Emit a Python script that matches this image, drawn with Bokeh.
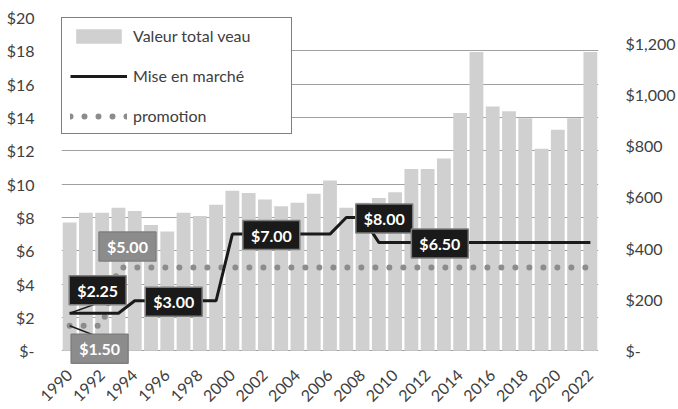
import math
from bokeh.plotting import figure
from bokeh.models import (Range1d, LinearAxis, FixedTicker, CustomJSTickFormatter,
                          Legend, LegendItem, Label)
from bokeh.embed import file_html
from bokeh.resources import INLINE

# ---------------- data ----------------
years = list(range(1990, 2023))
valeur_total_veau = [500, 538, 538, 558, 545, 491, 465, 538, 526, 570,
                     624, 615, 590, 564, 577, 612, 664, 558, 577, 596,
                     618, 709, 709, 750, 927, 1165, 953, 934, 907, 788,
                     862, 907, 1165]
mise_en_marche = [2.25, 2.25, 2.25, 2.25, 3.00, 3.00, 3.00, 3.00, 3.00, 3.00,
                  7.00, 7.00, 7.00, 7.00, 7.00, 7.00, 7.00, 8.00, 8.00, 6.50,
                  6.50, 6.50, 6.50, 6.50, 6.50, 6.50, 6.50, 6.50, 6.50, 6.50,
                  6.50, 6.50, 6.50]
promotion = [1.50, 1.50, 1.50, 5.00, 5.00, 5.00, 5.00, 5.00, 5.00, 5.00,
             5.00, 5.00, 5.00, 5.00, 5.00, 5.00, 5.00, 5.00, 5.00, 5.00,
             5.00, 5.00, 5.00, 5.00, 5.00, 5.00, 5.00, 5.00, 5.00, 5.00,
             5.00, 5.00, 5.00]
year_ticks = list(range(1990, 2023, 2))
left_ticks = list(range(0, 21, 2))
right_ticks = list(range(0, 1201, 200))
left_max, right_max = 20, 1300

# data labels: (series, year)
mise_label_years = [1990, 1994, 2000, 2007, 2009]
promo_label_years = [1990, 1993]

# ---------------- styles ----------------
FONT = "Lato"
TXT = "#404040"
W, H = 678, 409
FRAME_L, FRAME_R, FRAME_T, ZERO_Y, FRAME_B = 61, 602, 17, 355, 372
px_per_dollar = (ZERO_Y - FRAME_T) / left_max
px_per_year = (FRAME_R - FRAME_L) / 33.0
y_low = -(FRAME_B - ZERO_Y) / px_per_dollar      # small room under 0 for the $1.50 box
# label offsets in screen px (dx, dy up)
mise_offsets = {1990: (28, 23), 1994: (39, -1), 2000: (39, -1), 2007: (38, -1), 2009: (61, -1)}
promo_offsets = {1990: (30, -23), 1993: (9, 21)}

p = figure(width=W, height=H, output_backend="svg", toolbar_location=None,
           x_range=Range1d(1989.5, 2022.5), y_range=Range1d(y_low, left_max),
           min_border_left=FRAME_L, min_border_right=W - FRAME_R, min_border_top=FRAME_T,
           min_border_bottom=H - FRAME_B, background_fill_color="white",
           border_fill_color="white")
p.outline_line_color = None
p.extra_y_ranges = {"right": Range1d(y_low * right_max / left_max, right_max)}

# grid
p.xgrid.visible = False
p.ygrid.ticker = FixedTicker(ticks=left_ticks)
p.ygrid.grid_line_color = "#a0a0a0"
p.ygrid.grid_line_width = 1

# axes
xa = p.xaxis[0]
xa.ticker = FixedTicker(ticks=year_ticks)
xa.major_label_orientation = math.pi / 4
xa.axis_line_color = None
xa.major_tick_line_color = None
xa.minor_tick_line_color = None
xa.major_label_standoff = -1
xa.major_label_text_font = FONT
xa.major_label_text_font_size = "16px"
xa.major_label_text_color = TXT

ya = p.yaxis[0]
ya.ticker = FixedTicker(ticks=left_ticks)
ya.formatter = CustomJSTickFormatter(code='return tick == 0 ? "$-" : "$" + tick.toFixed(0);')
ya.axis_line_color = None
ya.major_tick_line_color = None
ya.minor_tick_line_color = None
ya.major_label_standoff = 21
ya.major_label_text_font = FONT
ya.major_label_text_font_size = "16px"
ya.major_label_text_color = TXT

ra = LinearAxis(y_range_name="right",
                ticker=FixedTicker(ticks=right_ticks),
                formatter=CustomJSTickFormatter(code='return tick == 0 ? "$-" : "$" + tick.toLocaleString("en-US");'))
ra.axis_line_color = None
ra.major_tick_line_color = None
ra.minor_tick_line_color = None
ra.major_label_standoff = 21
ra.major_label_text_font = FONT
ra.major_label_text_font_size = "16px"
ra.major_label_text_color = TXT
p.add_layout(ra, "right")

# glyphs
bars = p.vbar(x=years, top=valeur_total_veau, width=0.85, bottom=0,
              y_range_name="right", fill_color="#d0d0d0", line_color=None)
promo = p.line(x=years, y=promotion, line_color="#8c8c8c", line_width=6,
               line_dash="0 14", line_cap="round")
mise = p.line(x=years, y=mise_en_marche, line_color="#1a1a1a", line_width=3)


def add_label(xv, yv, off, fill, leader_end=None):
    dx, dy = off
    if leader_end is not None:
        ex, ey = leader_end
        p.segment(x0=[xv], y0=[yv], x1=[xv + ex / px_per_year], y1=[yv + ey / px_per_dollar],
                  line_color="#1a1a1a", line_width=1.5)
    lab = Label(x=xv, y=yv, x_offset=dx, y_offset=dy, text="$%.2f" % yv,
                text_align="center", text_baseline="middle",
                text_font=FONT, text_font_style="bold", text_font_size="16px",
                text_color="white", background_fill_color=fill,
                border_line_color="#7f7f7f", border_line_width=1.5,
                padding=(8, 5))
    p.add_layout(lab)


for yr in mise_label_years:
    v = mise_en_marche[years.index(yr)]
    le = (28, 10) if yr == 1990 else None
    add_label(yr, v, mise_offsets[yr], "#1a1a1a", le)
for yr in promo_label_years:
    v = promotion[years.index(yr)]
    le = (31, -12) if yr == 1990 else None
    add_label(yr, v, promo_offsets[yr], "#8c8c8c", le)

# legend
legend = Legend(items=[LegendItem(label="Valeur total veau", renderers=[bars]),
                       LegendItem(label="Mise en marché", renderers=[mise]),
                       LegendItem(label="promotion", renderers=[promo])],
                location="top_left", margin=0, padding=8, spacing=21,
                glyph_width=57, glyph_height=18, label_height=18,
                label_standoff=6, label_width=150,
                label_text_font=FONT, label_text_font_size="16px",
                label_text_color=TXT, label_text_baseline="middle",
                border_line_color="black", border_line_width=1,
                background_fill_color="white", background_fill_alpha=1)
p.add_layout(legend)

open("out.html", "w").write(file_html(p, INLINE))
